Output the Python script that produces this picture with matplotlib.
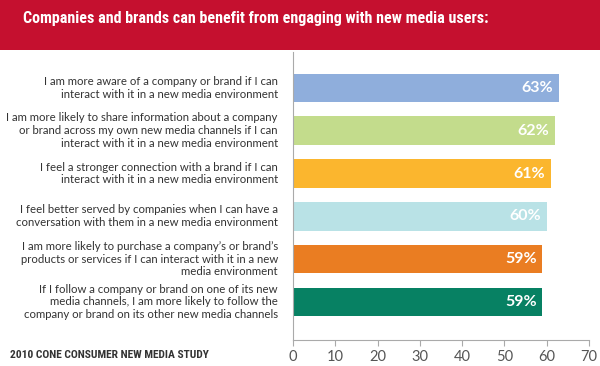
import matplotlib
matplotlib.use('Agg')
from matplotlib import pyplot as plt
from matplotlib import font_manager
from matplotlib.patches import Rectangle

TITLE = "Companies and brands can benefit from engaging with new media users:"
FOOTER = "2010 CONE CONSUMER NEW MEDIA STUDY"

statements = [
    "I am more aware of a company or brand if I can\ninteract with it in a new media environment",
    "I am more likely to share information about a company\nor brand across my own new media channels if I can\ninteract with it in a new media environment",
    "I feel a stronger connection with a brand if I can\ninteract with it in a new media environment",
    "I feel better served by companies when I can have a\nconversation with them in a new media environment",
    "I am more likely to purchase a company\u2019s or brand\u2019s\nproducts or services if I can interact with it in a new\nmedia environment",
    "If I follow a company or brand on one of its new\nmedia channels, I am more likely to follow the\ncompany or brand on its other new media channels",
]
percents = [63, 62, 61, 60, 59, 59]
bar_colors = ['#8FAEDC', '#C3DC8C', '#FBB62E', '#B9E2E6', '#EA7D22', '#078163']
xticks = [0, 10, 20, 30, 40, 50, 60, 70]


def pick(families):
    for fam in families:
        try:
            font_manager.findfont(font_manager.FontProperties(family=fam), fallback_to_default=False)
            return fam
        except ValueError:
            pass
    return 'DejaVu Sans'


title_font = pick(['Roboto Condensed', 'Open Sans Condensed', 'Fira Sans Condensed', 'PT Sans Narrow',
                   'Liberation Sans Narrow', 'Lato'])
body_font = pick(['Lato', 'Open Sans'])

fig = plt.figure(figsize=(6, 3.66), dpi=100, facecolor='w')
r = fig.canvas.get_renderer()


def fit(t, width):
    w = t.get_window_extent(r).width
    t.set_fontsize(t.get_fontsize() * width / w)


# red banner with title
fig.patches.append(Rectangle((0, 1 - 50 / 366), 1, 50 / 366, transform=fig.transFigure,
                             facecolor='#C5102F', edgecolor='none', zorder=0))
title = fig.text(256 / 600, 1 - 18 / 366, TITLE, color='white', fontsize=13, fontweight='bold',
                 family=title_font, ha='center', va='center')
fit(title, 464)

ax = fig.add_axes([293 / 600, 1 - 340 / 366, 296 / 600, 288 / 366])
ypos = list(range(len(percents)))
ax.barh(ypos, percents, height=0.67, color=bar_colors)
for y, v in zip(ypos, percents):
    ax.text(v - 1.4, y, "%d%%" % v, color='white', fontsize=11.5, fontweight='bold',
            family=body_font, ha='right', va='center')

ax.set_xlim(0, 70)
ax.set_ylim(5.89, -0.84)
ax.set_xticks(xticks)
ax.set_yticks([])
for s in ['top', 'right']:
    ax.spines[s].set_visible(False)
for s in ['left', 'bottom']:
    ax.spines[s].set_color('#AAAAAA')
    ax.spines[s].set_linewidth(0.8)
ax.tick_params(axis='x', colors='#AAAAAA', labelcolor='#555555', length=4, labelsize=10.5)
for lbl in ax.get_xticklabels():
    lbl.set_family(body_font)

labels = []
for y, s in zip(ypos, statements):
    labels.append(ax.text(-3.6, y, s, ha='right', va='center', fontsize=9, color='#333333',
                          family=body_font, linespacing=1.2))
# scale so the widest label matches the reference width
probe = fig.text(0, 0, statements[1].split('\n')[0], fontsize=9, family=body_font)
scale = 273 / probe.get_window_extent(r).width
probe.remove()
for t in labels:
    t.set_fontsize(9 * scale)

foot = fig.text(10 / 600, 1 - 355 / 366, FOOTER, fontsize=7.5, fontweight='bold', color='#333333',
                family=title_font, ha='left', va='center')
fit(foot, 199)

plt.savefig('out.png', dpi=100, facecolor='w')
